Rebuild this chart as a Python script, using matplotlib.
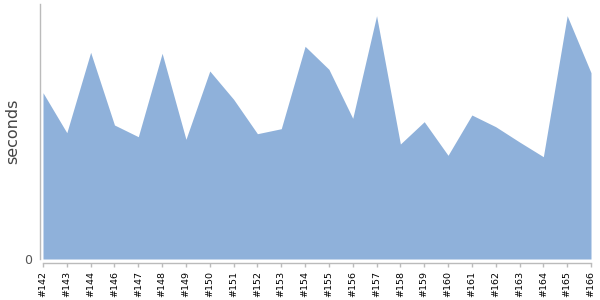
import matplotlib
matplotlib.use("Agg")
import matplotlib.pyplot as plt

builds = ["#142", "#143", "#144", "#146", "#147", "#148", "#149", "#150", "#151",
          "#152", "#153", "#154", "#155", "#156", "#157", "#158", "#159", "#160",
          "#161", "#162", "#163", "#164", "#165", "#166"]
seconds = [166.3, 126.3, 206.7, 134.0, 122.3, 205.7, 119.7, 188.0, 159.7,
           125.3, 130.3, 212.7, 189.7, 140.7, 243.3, 115.0, 137.3, 103.7,
           144.0, 132.3, 117.0, 102.3, 243.3, 186.3]

W, H = 600, 300
fig = plt.figure(figsize=(W / 100, H / 100), dpi=100)
left, right, top, bottom = 43, 591, 4, 259
ax = fig.add_axes([left / W, 1 - bottom / H, (right - left) / W, (bottom - top) / H])

x = list(range(len(builds)))
ax.fill_between(x, 0, seconds, color="#8fb1da", linewidth=0)
ax.set_xlim(0, len(builds) - 1)
ax.set_ylim(0, 255)

for s in ("top", "right"):
    ax.spines[s].set_visible(False)
ax.spines["left"].set_position(("outward", 2.2))
ax.spines["bottom"].set_position(("outward", 3))
for s in ("left", "bottom"):
    ax.spines[s].set_color("#bbbbbb")
    ax.spines[s].set_linewidth(1)

ax.set_xticks(x)
ax.set_xticklabels(builds, rotation=90, fontsize=6.8, color="black")
ax.tick_params(axis="x", length=3, width=1, color="#bbbbbb", pad=2.5)
ax.set_yticks([0])
ax.set_yticklabels(["0"], fontsize=9, color="#555555")
ax.tick_params(axis="y", length=0, pad=5.5)
fig.text(13 / W, 1 - 131 / H, "seconds", rotation=90, ha="center", va="center",
         fontsize=11.5, color="#444444")

fig.savefig("out.png", dpi=100)
